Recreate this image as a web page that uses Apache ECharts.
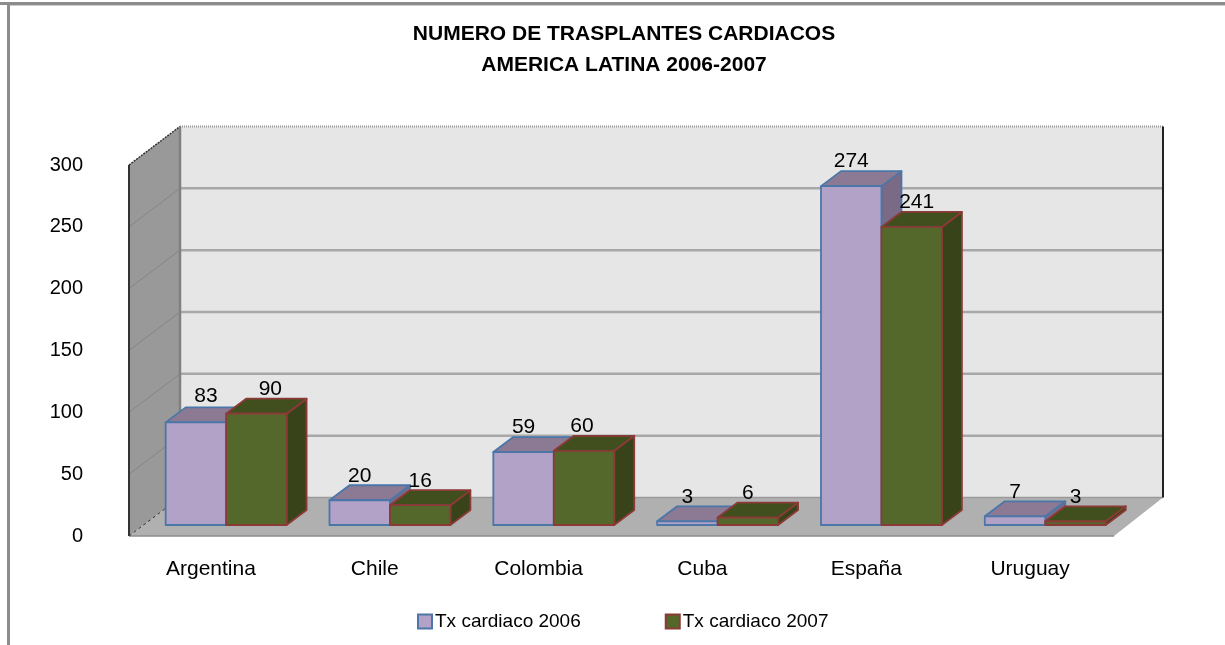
<!DOCTYPE html>
<html>
<head>
<meta charset="utf-8">
<title>Trasplantes cardiacos</title>
<script src="https://cdn.jsdelivr.net/npm/echarts@6/dist/echarts.min.js"></script>
<style>
	html, body { margin: 0; padding: 0; background: #fff; }
	#chart { width: 1225px; height: 645px; }
</style>
</head>
<body>
<div id="chart"></div>
<script>
var categories = ['Argentina', 'Chile', 'Colombia', 'Cuba', 'España', 'Uruguay'];
var tx2006 = [83, 20, 59, 3, 274, 7];
var tx2007 = [90, 16, 60, 6, 241, 3];
var yTicks = [0, 50, 100, 150, 200, 250, 300];

// the excel data labels are not all centred, these nudge them in px
var labelNudge2006 = [[10, -2], [0, 0], [0, 0], [0, 0], [0, 0], [0, 0]];
var labelNudge2007 = [[14, 0], [0, 0], [-2, 0], [0, 0], [5, 0], [0, 0]];

var FONT = '"Liberation Sans", Arial, sans-serif';
var WALL_DX = 51, WALL_DY = -38.5;   // depth of the box
var BAR_SHIFT_X = 14.5, BAR_SHIFT_Y = -11;   // bars stand inside the floor
var BAR_DX = 20, BAR_DY = -15;   // depth of one bar

function poly(points, fill, stroke, width) {
	return {
		type: 'polygon',
		shape: { points: points },
		style: { fill: fill, stroke: stroke || null, lineWidth: width || 0, lineJoin: 'round' }
	};
}

function line(x1, y1, x2, y2, color, width, dash) {
	return {
		type: 'line',
		shape: { x1: x1, y1: y1, x2: x2, y2: y2 },
		style: { stroke: color, lineWidth: width, lineDash: dash || null }
	};
}

// back wall, side wall, floor and gridlines
function renderWalls(params, api) {
	var cs = params.coordSys;
	var left = cs.x, right = cs.x + cs.width;
	var bottom = api.coord([0, 0])[1], top = api.coord([0, 300])[1];
	var kids = [
		poly([[left + WALL_DX, top + WALL_DY], [right + WALL_DX, top + WALL_DY], [right + WALL_DX, bottom + WALL_DY], [left + WALL_DX, bottom + WALL_DY]], '#e6e6e6'),
		poly([[left, top], [left + WALL_DX, top + WALL_DY], [left + WALL_DX, bottom + WALL_DY], [left, bottom]], '#999999'),
		poly([[left, bottom], [right + 2, bottom], [right + WALL_DX, bottom + WALL_DY], [left + WALL_DX, bottom + WALL_DY]], '#b0b0b0')
	];
	yTicks.forEach(function (t) {
		var y = api.coord([0, t])[1];
		if (t > 0 && t < 300) {
			kids.push(line(left, y, left + WALL_DX, y + WALL_DY, '#858585', 1));
			kids.push(line(left + WALL_DX, y + WALL_DY, right + WALL_DX, y + WALL_DY, '#a8a8a8', 2.5));
		}
	});
	kids.push(line(left + WALL_DX, bottom + WALL_DY, right + WALL_DX, bottom + WALL_DY, '#9a9a9a', 1.5));
	kids.push(line(left + WALL_DX, top + WALL_DY, right + WALL_DX, top + WALL_DY, '#999999', 2, [1, 1]));
	kids.push(line(left, top, left + WALL_DX, top + WALL_DY, '#333333', 1.5, [2, 1]));
	kids.push(line(left + WALL_DX, top + WALL_DY, left + WALL_DX, bottom + WALL_DY, '#808080', 2.5));
	kids.push(line(left, top, left, bottom, '#333333', 2));
	kids.push(line(right + WALL_DX, top + WALL_DY, right + WALL_DX, bottom + WALL_DY, '#222222', 2));
	kids.push(line(left, bottom, right + 2, bottom, '#8c8c8c', 1.5));
	kids.push(line(left, bottom, left + WALL_DX, bottom + WALL_DY, '#333333', 1, [3, 3]));
	return { type: 'group', children: kids };
}

function barRenderer(colors, side, nudges) {
	return function (params, api) {
		var i = api.value(0);
		var size = api.size([1, 0])[0];
		var w = size * 0.369;
		var c = api.coord([i, api.value(1)]);
		var base = api.coord([i, 0]);
		var x0 = c[0] + BAR_SHIFT_X + (side === 0 ? -w : 0) + 0.7;
		var x1 = x0 + w;
		var yTop = c[1] + BAR_SHIFT_Y, yBot = base[1] + BAR_SHIFT_Y;
		var n = nudges[i];
		return {
			type: 'group',
			children: [
				poly([[x1, yTop], [x1 + BAR_DX, yTop + BAR_DY], [x1 + BAR_DX, yBot + BAR_DY], [x1, yBot]], colors.side, colors.edge, 1.8),
				poly([[x0, yTop], [x0 + BAR_DX, yTop + BAR_DY], [x1 + BAR_DX, yTop + BAR_DY], [x1, yTop]], colors.top, colors.edge, 1.8),
				poly([[x0, yTop], [x1, yTop], [x1, yBot], [x0, yBot]], colors.front, colors.edge, 1.8),
				{
					type: 'text',
					style: {
						text: String(api.value(1)),
						x: x0 + w / 2 + n[0],
						y: yTop + BAR_DY - 9.5 + n[1],
						align: 'center',
						verticalAlign: 'middle',
						fill: '#000',
						font: '21px ' + FONT
					}
				}
			]
		};
	};
}

function toPoints(values) {
	return values.map(function (v, i) { return [i, v]; });
}

var purple = { front: '#b3a2c7', top: '#8c7a94', side: '#7a6a85', edge: '#4a76a8' };
var green = { front: '#55682c', top: '#414e1d', side: '#384319', edge: '#8b3a37' };

var chart = echarts.init(document.getElementById('chart'));
chart.setOption({
	animation: false,
	backgroundColor: '#fff',
	title: {
		text: 'NUMERO DE TRASPLANTES CARDIACOS\nAMERICA LATINA 2006-2007',
		left: 619,
		top: 14,
		textAlign: 'center',
		textStyle: { fontFamily: FONT, fontSize: 21, fontWeight: 'bold', lineHeight: 31, color: '#000' }
	},
	legend: {
		left: 412,
		top: 607,
		itemWidth: 14,
		itemHeight: 14,
		itemGap: 84,
		textStyle: { fontFamily: FONT, fontSize: 19, color: '#000', padding: [0, 0, 0, -2] },
		data: [
			{ name: 'Tx cardiaco 2006', icon: 'rect', itemStyle: { color: purple.front, borderColor: purple.edge, borderWidth: 2 } },
			{ name: 'Tx cardiaco 2007', icon: 'rect', itemStyle: { color: green.front, borderColor: green.edge, borderWidth: 2 } }
		]
	},
	grid: { left: 129, right: 113, top: 165, bottom: 109 },
	xAxis: {
		type: 'category',
		data: categories,
		axisLine: { show: false },
		axisTick: { show: false },
		axisLabel: { margin: 23, fontFamily: FONT, fontSize: 21, color: '#000' }
	},
	yAxis: {
		type: 'value',
		min: 0,
		max: 300,
		interval: 50,
		axisLine: { show: false },
		axisTick: { show: false },
		splitLine: { show: false },
		axisLabel: { margin: 46, fontFamily: FONT, fontSize: 20, color: '#000', padding: [2, 0, 0, 0] }
	},
	graphic: [
		{ type: 'rect', shape: { x: 0, y: 2, width: 1225, height: 3 }, style: { fill: '#8c8c8c' } },
		{ type: 'rect', shape: { x: 10, y: 5, width: 1215, height: 1 }, style: { fill: '#cccccc' } },
		{ type: 'rect', shape: { x: 7, y: 2, width: 3, height: 643 }, style: { fill: '#8c8c8c' } }
	],
	series: [
		{
			name: 'walls',
			type: 'custom',
			coordinateSystem: 'cartesian2d',
			clip: false,
			silent: true,
			z: 1,
			data: [[0, 0]],
			renderItem: renderWalls
		},
		{
			name: 'Tx cardiaco 2006',
			type: 'custom',
			coordinateSystem: 'cartesian2d',
			clip: false,
			z: 2,
			encode: { x: 0, y: 1 },
			data: toPoints(tx2006),
			renderItem: barRenderer(purple, 0, labelNudge2006)
		},
		{
			name: 'Tx cardiaco 2007',
			type: 'custom',
			coordinateSystem: 'cartesian2d',
			clip: false,
			z: 3,
			encode: { x: 0, y: 1 },
			data: toPoints(tx2007),
			renderItem: barRenderer(green, 1, labelNudge2007)
		}
	]
});
</script>
</body>
</html>
